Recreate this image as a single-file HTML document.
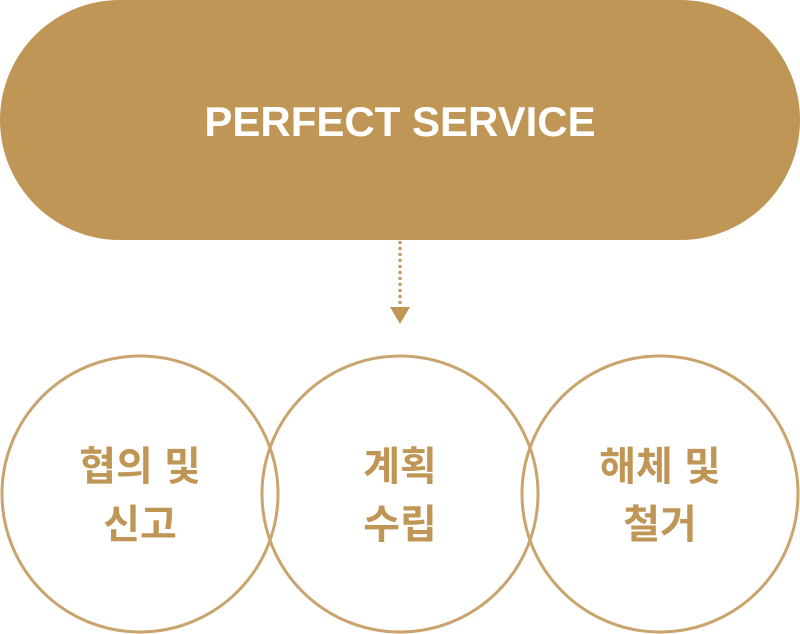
<!DOCTYPE html>
<html><head><meta charset="utf-8"><style>
html,body{margin:0;padding:0;background:#fff;width:800px;height:634px;overflow:hidden}
</style></head><body>
<svg width="800" height="634" xmlns="http://www.w3.org/2000/svg">
<rect x="0" y="0" width="800" height="240" rx="120" fill="#BF9655"/>
<text x="400" y="136" text-anchor="middle" font-family="'Liberation Sans','Noto Sans CJK KR',sans-serif" font-weight="bold" font-size="42" fill="#fff">PERFECT SERVICE</text>
<line x1="400" y1="241" x2="400" y2="306" stroke="#BF9655" stroke-width="3" stroke-dasharray="3,3"/>
<polygon points="390,307 410,307 400,324" fill="#BF9655"/>
<g fill="none" stroke="#C9A46E" stroke-width="3">
<circle cx="140" cy="494" r="138"/>
<circle cx="400" cy="494" r="138"/>
<circle cx="660" cy="494" r="138"/>
</g>
<g font-family="'Liberation Sans','Noto Sans CJK KR',sans-serif" font-weight="bold" font-size="40" fill="#BF9655" text-anchor="middle">
<text x="140" y="480">협의 및</text><text x="140" y="538">신고</text>
<text x="400" y="480">계획</text><text x="400" y="538">수립</text>
<text x="660" y="480">해체 및</text><text x="660" y="538">철거</text>
</g>
</svg>
</body></html>
